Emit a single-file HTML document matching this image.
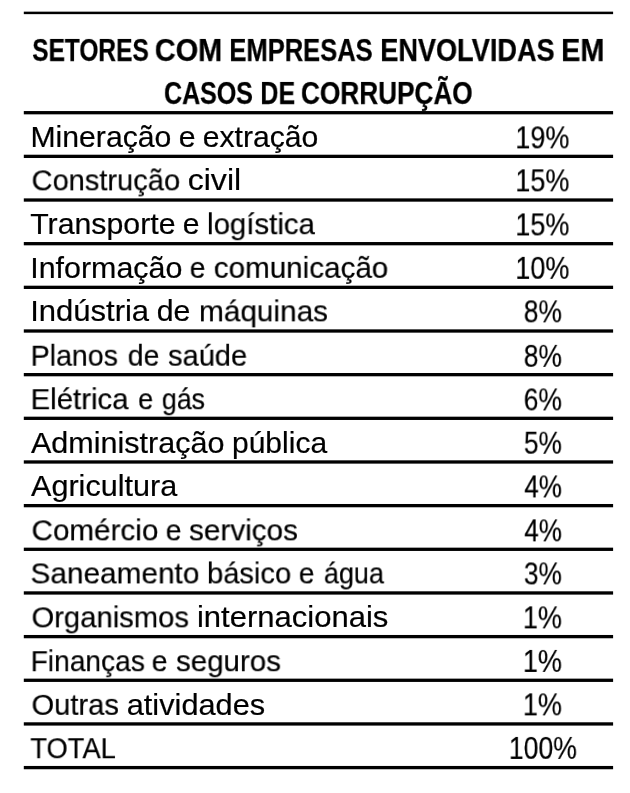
<!DOCTYPE html>
<html><head><meta charset="utf-8"><style>
html,body{margin:0;padding:0;background:#fff;}
body{width:630px;height:793px;position:relative;overflow:hidden;font-family:"Liberation Sans",sans-serif;color:#000;}
.t{position:absolute;white-space:nowrap;line-height:1;transform-origin:0 0;will-change:transform;}
</style></head><body>
<svg width="630" height="793" style="position:absolute;left:0;top:0" shape-rendering="geometricPrecision"><rect x="23.8" y="11.65" width="589.3" height="2.5" fill="#000"/><rect x="23.8" y="111.05" width="589.3" height="3.3" fill="#000"/><rect x="23.8" y="154.71" width="589.3" height="3.3" fill="#000"/><rect x="23.8" y="198.37" width="589.3" height="3.3" fill="#000"/><rect x="23.8" y="242.03" width="589.3" height="3.3" fill="#000"/><rect x="23.8" y="285.69" width="589.3" height="3.3" fill="#000"/><rect x="23.8" y="329.35" width="589.3" height="3.3" fill="#000"/><rect x="23.8" y="373.01" width="589.3" height="3.3" fill="#000"/><rect x="23.8" y="416.67" width="589.3" height="3.3" fill="#000"/><rect x="23.8" y="460.33" width="589.3" height="3.3" fill="#000"/><rect x="23.8" y="503.99" width="589.3" height="3.3" fill="#000"/><rect x="23.8" y="547.65" width="589.3" height="3.3" fill="#000"/><rect x="23.8" y="591.31" width="589.3" height="3.3" fill="#000"/><rect x="23.8" y="634.97" width="589.3" height="3.3" fill="#000"/><rect x="23.8" y="678.63" width="589.3" height="3.3" fill="#000"/><rect x="23.8" y="722.29" width="589.3" height="3.3" fill="#000"/><rect x="23.8" y="765.95" width="589.3" height="3.3" fill="#000"/></svg>
<div class="t" style="left:32px;top:34px;font-size:31px;transform:translate(0.212px,0.880px) scaleX(0.7895);font-weight:bold;-webkit-text-stroke:0.25px #000">SETORES</div>
<div class="t" style="left:154px;top:34px;font-size:31px;transform:translate(0.803px,0.880px) scaleX(0.9309);font-weight:bold;-webkit-text-stroke:0.25px #000">COM</div>
<div class="t" style="left:229px;top:34px;font-size:31px;transform:translate(0.354px,0.880px) scaleX(0.8239);font-weight:bold;-webkit-text-stroke:0.25px #000">EMPRESAS</div>
<div class="t" style="left:380px;top:34px;font-size:31px;transform:translate(0.250px,0.880px) scaleX(0.8755);font-weight:bold;-webkit-text-stroke:0.25px #000">ENVOLVIDAS</div>
<div class="t" style="left:561px;top:34px;font-size:31px;transform:translate(0.122px,0.880px) scaleX(0.9295);font-weight:bold;-webkit-text-stroke:0.25px #000">EM</div>
<div class="t" style="left:163px;top:77px;font-size:31px;transform:translate(0.993px,0.880px) scaleX(0.8063);font-weight:bold;-webkit-text-stroke:0.25px #000">CASOS</div>
<div class="t" style="left:260px;top:77px;font-size:31px;transform:translate(0.358px,0.880px) scaleX(0.8066);font-weight:bold;-webkit-text-stroke:0.25px #000">DE</div>
<div class="t" style="left:300px;top:77px;font-size:31px;transform:translate(0.934px,0.880px) scaleX(0.8454);font-weight:bold;-webkit-text-stroke:0.25px #000">CORRUPÇÃO</div>
<div class="t" style="left:30px;top:121px;font-size:30px;transform:translate(0.479px,0.750px) scaleX(1.0057);-webkit-text-stroke:0.2px #000">Mineração</div>
<div class="t" style="left:178px;top:121px;font-size:30px;transform:translate(0.743px,0.750px) scaleX(1.0077);-webkit-text-stroke:0.2px #000">e</div>
<div class="t" style="left:202px;top:121px;font-size:30px;transform:translate(0.733px,0.750px) scaleX(1.0047);-webkit-text-stroke:0.2px #000">extração</div>
<div class="t" style="left:515px;top:122px;font-size:31.5px;transform:translate(0.340px,0.370px) scaleX(0.8576);-webkit-text-stroke:0.2px #000">19%</div>
<div class="t" style="left:31px;top:165px;font-size:30px;transform:translate(0.537px,0.370px) scaleX(0.9685);-webkit-text-stroke:0.2px #000">Construção</div>
<div class="t" style="left:187px;top:165px;font-size:30px;transform:translate(0.667px,0.370px) scaleX(1.07);-webkit-text-stroke:0.2px #000">civil</div>
<div class="t" style="left:515px;top:165px;font-size:31.5px;transform:translate(0.340px,0.370px) scaleX(0.8576);-webkit-text-stroke:0.2px #000">15%</div>
<div class="t" style="left:30px;top:209px;font-size:30px;transform:translate(0.236px,0.250px) scaleX(1.0089);-webkit-text-stroke:0.2px #000">Transporte</div>
<div class="t" style="left:182px;top:209px;font-size:30px;transform:translate(0.715px,0.250px) scaleX(1.0025);-webkit-text-stroke:0.2px #000">e</div>
<div class="t" style="left:207px;top:209px;font-size:30px;transform:translate(0.025px,0.250px) scaleX(0.9816);-webkit-text-stroke:0.2px #000">logística</div>
<div class="t" style="left:515px;top:209px;font-size:31.5px;transform:translate(0.340px,0.380px) scaleX(0.8576);-webkit-text-stroke:0.2px #000">15%</div>
<div class="t" style="left:30px;top:252px;font-size:30px;transform:translate(0.208px,0.870px) scaleX(1.0136);-webkit-text-stroke:0.2px #000">Informação</div>
<div class="t" style="left:189px;top:252px;font-size:30px;transform:translate(0.745px,0.870px) scaleX(0.9396);-webkit-text-stroke:0.2px #000">e</div>
<div class="t" style="left:213px;top:252px;font-size:30px;transform:translate(0.769px,0.870px) scaleX(0.9871);-webkit-text-stroke:0.2px #000">comunicação</div>
<div class="t" style="left:515px;top:252px;font-size:31.5px;transform:translate(0.340px,0.870px) scaleX(0.8576);-webkit-text-stroke:0.2px #000">10%</div>
<div class="t" style="left:30px;top:296px;font-size:30px;transform:translate(0.140px,0.370px) scaleX(1.0338);-webkit-text-stroke:0.2px #000">Indústria</div>
<div class="t" style="left:156px;top:296px;font-size:30px;transform:translate(0.702px,0.370px) scaleX(1.0096);-webkit-text-stroke:0.2px #000">de</div>
<div class="t" style="left:199px;top:296px;font-size:30px;transform:translate(0.014px,0.370px) scaleX(0.992);-webkit-text-stroke:0.2px #000">máquinas</div>
<div class="t" style="left:523px;top:296px;font-size:31.5px;transform:translate(0.745px,0.370px) scaleX(0.838);-webkit-text-stroke:0.2px #000">8%</div>
<div class="t" style="left:30px;top:340px;font-size:30px;transform:translate(0.618px,0.750px) scaleX(0.9519);-webkit-text-stroke:0.2px #000">Planos</div>
<div class="t" style="left:127px;top:340px;font-size:30px;transform:translate(0.772px,0.750px) scaleX(0.9458);-webkit-text-stroke:0.2px #000">de</div>
<div class="t" style="left:168px;top:340px;font-size:30px;transform:translate(0.025px,0.750px) scaleX(0.9689);-webkit-text-stroke:0.2px #000">saúde</div>
<div class="t" style="left:523px;top:340px;font-size:31.5px;transform:translate(0.745px,0.870px) scaleX(0.838);-webkit-text-stroke:0.2px #000">8%</div>
<div class="t" style="left:30px;top:384px;font-size:30px;transform:translate(0.548px,0.250px) scaleX(0.9804);-webkit-text-stroke:0.2px #000">Elétrica</div>
<div class="t" style="left:138px;top:384px;font-size:30px;transform:translate(0.188px,0.250px) scaleX(0.8969);-webkit-text-stroke:0.2px #000">e</div>
<div class="t" style="left:161px;top:384px;font-size:30px;transform:translate(0.877px,0.250px) scaleX(0.8918);-webkit-text-stroke:0.2px #000">gás</div>
<div class="t" style="left:523px;top:384px;font-size:31.5px;transform:translate(0.697px,0.380px) scaleX(0.8395);-webkit-text-stroke:0.2px #000">6%</div>
<div class="t" style="left:30px;top:427px;font-size:30px;transform:translate(0.996px,0.750px) scaleX(1.0174);-webkit-text-stroke:0.2px #000">Administração</div>
<div class="t" style="left:231px;top:427px;font-size:30px;transform:translate(0.986px,0.750px) scaleX(1.0001);-webkit-text-stroke:0.2px #000">pública</div>
<div class="t" style="left:523px;top:427px;font-size:31.5px;transform:translate(0.924px,0.750px) scaleX(0.8331);-webkit-text-stroke:0.2px #000">5%</div>
<div class="t" style="left:30px;top:471px;font-size:30px;transform:translate(0.996px,0.250px) scaleX(1.0193);-webkit-text-stroke:0.2px #000">Agricultura</div>
<div class="t" style="left:524px;top:471px;font-size:31.5px;transform:translate(0.359px,0.380px) scaleX(0.8244);-webkit-text-stroke:0.2px #000">4%</div>
<div class="t" style="left:31px;top:515px;font-size:30px;transform:translate(0.502px,0.370px) scaleX(0.9882);-webkit-text-stroke:0.2px #000">Comércio</div>
<div class="t" style="left:165px;top:515px;font-size:30px;transform:translate(0.765px,0.370px) scaleX(0.9395);-webkit-text-stroke:0.2px #000">e</div>
<div class="t" style="left:188px;top:515px;font-size:30px;transform:translate(0.997px,0.370px) scaleX(0.9907);-webkit-text-stroke:0.2px #000">serviços</div>
<div class="t" style="left:524px;top:515px;font-size:31.5px;transform:translate(0.359px,0.370px) scaleX(0.8244);-webkit-text-stroke:0.2px #000">4%</div>
<div class="t" style="left:30px;top:558px;font-size:30px;transform:translate(0.507px,0.380px) scaleX(0.9925);-webkit-text-stroke:0.2px #000">Saneamento</div>
<div class="t" style="left:207px;top:558px;font-size:30px;transform:translate(0.034px,0.380px) scaleX(0.9706);-webkit-text-stroke:0.2px #000">básico</div>
<div class="t" style="left:298px;top:558px;font-size:30px;transform:translate(0.828px,0.380px) scaleX(0.9348);-webkit-text-stroke:0.2px #000">e</div>
<div class="t" style="left:323px;top:558px;font-size:30px;transform:translate(0.853px,0.380px) scaleX(0.9013);-webkit-text-stroke:0.2px #000">água</div>
<div class="t" style="left:523px;top:558px;font-size:31.5px;transform:translate(0.924px,0.380px) scaleX(0.8331);-webkit-text-stroke:0.2px #000">3%</div>
<div class="t" style="left:31px;top:602px;font-size:30px;transform:translate(0.530px,0.370px) scaleX(0.9734);-webkit-text-stroke:0.2px #000">Organismos</div>
<div class="t" style="left:196px;top:602px;font-size:30px;transform:translate(0.933px,0.370px) scaleX(1.0341);-webkit-text-stroke:0.2px #000">internacionais</div>
<div class="t" style="left:522px;top:602px;font-size:31.5px;transform:translate(0.848px,0.370px) scaleX(0.8581);-webkit-text-stroke:0.2px #000">1%</div>
<div class="t" style="left:30px;top:646px;font-size:30px;transform:translate(0.659px,0.250px) scaleX(0.9385);-webkit-text-stroke:0.2px #000">Finanças</div>
<div class="t" style="left:151px;top:646px;font-size:30px;transform:translate(0.722px,0.250px) scaleX(0.9451);-webkit-text-stroke:0.2px #000">e</div>
<div class="t" style="left:176px;top:646px;font-size:30px;transform:translate(0.006px,0.250px) scaleX(0.9831);-webkit-text-stroke:0.2px #000">seguros</div>
<div class="t" style="left:522px;top:645px;font-size:31.5px;transform:translate(0.848px,0.880px) scaleX(0.8581);-webkit-text-stroke:0.2px #000">1%</div>
<div class="t" style="left:31px;top:689px;font-size:30px;transform:translate(0.526px,0.870px) scaleX(0.9717);-webkit-text-stroke:0.2px #000">Outras</div>
<div class="t" style="left:126px;top:689px;font-size:30px;transform:translate(0.715px,0.870px) scaleX(1.0247);-webkit-text-stroke:0.2px #000">atividades</div>
<div class="t" style="left:522px;top:689px;font-size:31.5px;transform:translate(0.848px,0.370px) scaleX(0.8581);-webkit-text-stroke:0.2px #000">1%</div>
<div class="t" style="left:30px;top:733px;font-size:30px;transform:translate(0.314px,0.250px) scaleX(0.9108);-webkit-text-stroke:0.2px #000">TOTAL</div>
<div class="t" style="left:508px;top:732px;font-size:31.5px;transform:translate(0.860px,0.880px) scaleX(0.8446);-webkit-text-stroke:0.2px #000">100%</div>
</body></html>
